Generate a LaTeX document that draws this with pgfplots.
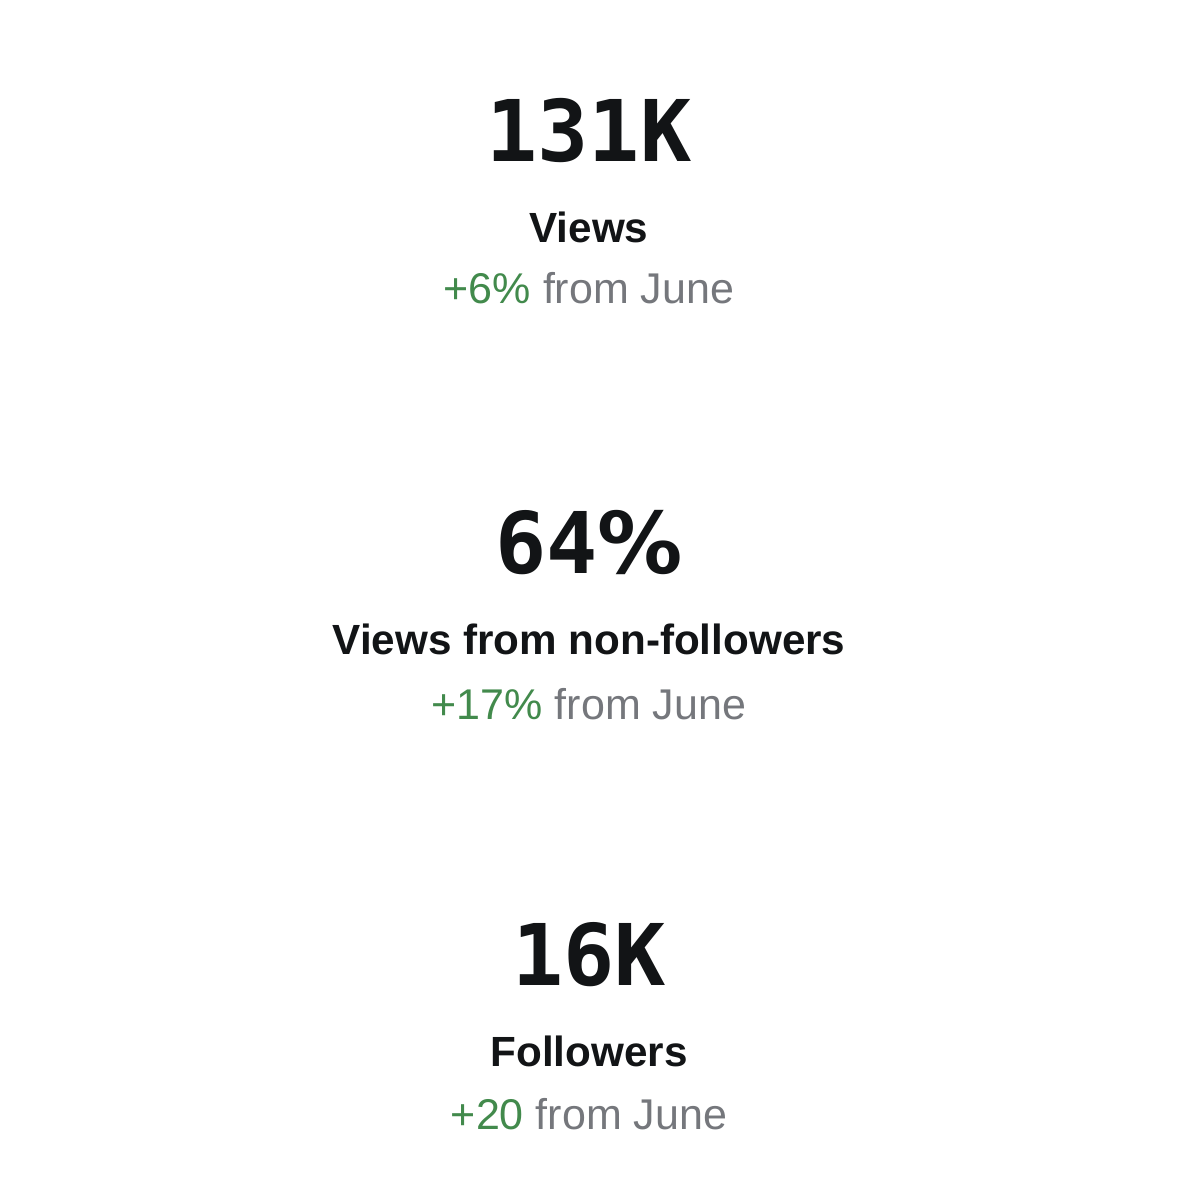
\documentclass[border=0pt]{standalone}
\usepackage{pgfplots}
\pgfplotsset{compat=1.18}
\usepackage{fontspec}
\setmainfont{Liberation Sans}
\newfontfamily\bigmono{DejaVu Sans Mono}
\newfontfamily\djsans{DejaVu Sans}
\definecolor{kblack}{HTML}{121416}
\definecolor{kgreen}{HTML}{428A4C}
\definecolor{kgrey}{HTML}{75777C}
\begin{document}
\begin{tikzpicture}
\begin{axis}[
  width=400pt, height=400pt, scale only axis,
  hide axis, clip=false,
  xmin=0, xmax=1178, ymin=0, ymax=1178,
  y dir=reverse,
]
\addplot[draw=none, fill=white, forget plot] coordinates {(0,0) (1178,0) (1178,1178) (0,1178)};
% big values
\addplot[draw=none, mark=none, nodes near coords, point meta=explicit symbolic,
  nodes near coords style={anchor=base, inner sep=0pt, text=kblack,
    font=\bigmono\bfseries\fontsize{28.9pt}{30pt}\selectfont}]
  coordinates {(589,161) [131K] (589,573) [64{\djsans\bfseries\%}] (589,985) [16K]};
% labels
\addplot[draw=none, mark=none, nodes near coords, point meta=explicit symbolic,
  nodes near coords style={anchor=base, inner sep=0pt, text=kblack,
    font=\bfseries\fontsize{14.33pt}{16pt}\selectfont}]
  coordinates {(589,242) [Views] (589,654) [Views from non-followers] (589,1066) [Followers]};
% changes
\addplot[draw=none, mark=none, nodes near coords, point meta=explicit symbolic,
  nodes near coords style={anchor=base, inner sep=0pt, text=kgrey,
    font=\fontsize{14.6pt}{16pt}\selectfont}]
  coordinates {(589,303) [\textcolor{kgreen}{+6\%} from June] (589,719) [\textcolor{kgreen}{+17\%} from June] (589,1129) [\textcolor{kgreen}{+20} from June]};
\end{axis}
\end{tikzpicture}
\end{document}
